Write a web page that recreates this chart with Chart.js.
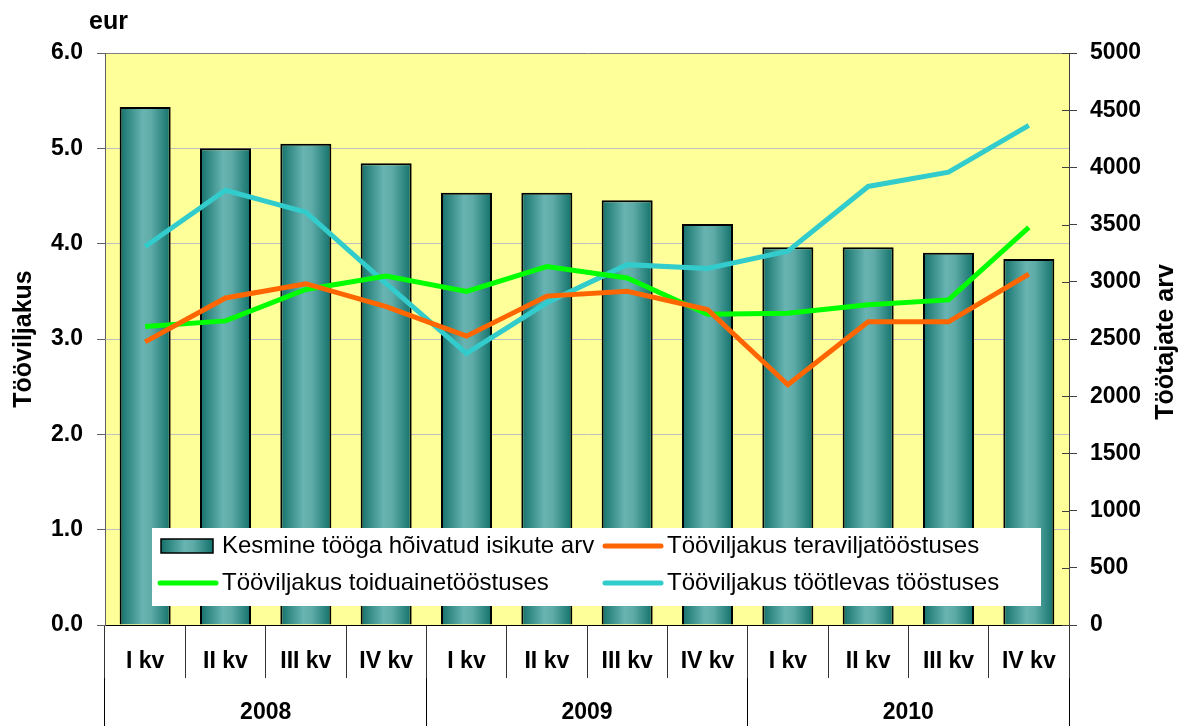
<!DOCTYPE html>
<html lang="et">
<head>
<meta charset="UTF-8">
<title>Tööviljakus</title>
<script src="https://cdn.jsdelivr.net/npm/chart.js@4.4.1/dist/chart.umd.min.js"></script>
<style>
  html, body { margin: 0; padding: 0; background: #fff; }
</style>
</head>
<body>
<canvas id="chart" width="1179" height="726"></canvas>
<script>
// andmed
const kvartalid = ['I kv', 'II kv', 'III kv', 'IV kv', 'I kv', 'II kv', 'III kv', 'IV kv', 'I kv', 'II kv', 'III kv', 'IV kv'];
const aastad = ['2008', '2009', '2010'];
const hoivatud = [4528, 4167, 4207, 4036, 3779, 3779, 3712, 3505, 3302, 3302, 3254, 3199];
const teravili = [2.97, 3.43, 3.58, 3.34, 3.03, 3.45, 3.50, 3.31, 2.52, 3.18, 3.18, 3.68];
const toiduaine = [3.13, 3.19, 3.52, 3.66, 3.50, 3.76, 3.64, 3.26, 3.27, 3.36, 3.41, 4.17];
const tootlev = [3.97, 4.56, 4.33, 3.58, 2.85, 3.38, 3.78, 3.74, 3.92, 4.60, 4.75, 5.24];

const seeriaNimed = ['Kesmine tööga hõivatud isikute arv', 'Tööviljakus teraviljatööstuses',
    'Tööviljakus toiduainetööstuses', 'Tööviljakus töötlevas tööstuses'];
const varvid = { teravili: '#ff6600', toiduaine: '#00ff00', tootlev: '#33cccc' };

const FONT = '"Liberation Sans", Arial, sans-serif';
const TULBA_OSA = 0.635;

function tulbaGradient(g, x0, x1) {
    const gr = g.createLinearGradient(x0, 0, x1, 0);
    gr.addColorStop(0, '#156e69');
    gr.addColorStop(0.15, '#2f8782');
    gr.addColorStop(0.45, '#68b4b2');
    gr.addColorStop(0.62, '#5eaba8');
    gr.addColorStop(1, '#11706a');
    return gr;
}

// tulpade värv arvutatakse skaala järgi
function tulbaVarv(ctx) {
    const x = ctx.chart.scales.x;
    if (!x || ctx.dataIndex === undefined) return '#4fa6a2';
    const w = x.width / kvartalid.length * TULBA_OSA;
    const c = x.getPixelForValue(ctx.dataIndex);
    if (!isFinite(w) || !isFinite(c)) return '#4fa6a2';
    return tulbaGradient(ctx.chart.ctx, c - w / 2, c + w / 2);
}

// kollane taust joonisealale
const taust = {
    id: 'taust',
    beforeDraw(chart) {
        const a = chart.chartArea, g = chart.ctx;
        g.save();
        g.fillStyle = '#ffff99';
        g.fillRect(a.left, a.top, a.right - a.left, a.bottom - a.top);
        g.restore();
    }
};

// legend joonise sees
const legend = {
    id: 'omaLegend',
    afterDatasetsDraw(chart) {
        const a = chart.chartArea, g = chart.ctx;
        const x0 = a.left + 47, y0 = a.bottom - 97, x1 = a.right - 28, y1 = a.bottom - 19;
        g.save();
        g.fillStyle = '#fff';
        g.fillRect(x0, y0, x1 - x0, y1 - y0);
        g.font = '24px ' + FONT;
        g.textBaseline = 'middle';
        const rida1 = y0 + 18, rida2 = y0 + 55;
        const k1 = x0 + 8, k2 = x0 + 451;

        // tulba sümbol
        g.fillStyle = tulbaGradient(g, k1 + 1, k1 + 53);
        g.fillRect(k1 + 1, rida1 - 7, 52, 14);
        g.strokeStyle = '#000';
        g.lineWidth = 1.5;
        g.strokeRect(k1 + 1, rida1 - 7, 52, 14);

        const joon = (x, y, v) => {
            g.strokeStyle = v;
            g.lineWidth = 5;
            g.lineCap = 'round';
            g.beginPath();
            g.moveTo(x + 2, y);
            g.lineTo(x + 58, y);
            g.stroke();
        };
        joon(k1 - 2, rida2, varvid.toiduaine);
        joon(k2, rida1, varvid.teravili);
        joon(k2, rida2, varvid.tootlev);

        g.fillStyle = '#000';
        g.fillText(seeriaNimed[0], x0 + 70, rida1);
        g.fillText(seeriaNimed[2], x0 + 70, rida2);
        g.fillText(seeriaNimed[1], k2 + 64, rida1);
        g.fillText(seeriaNimed[3], k2 + 64, rida2);
        g.restore();
    }
};

// telgede pealkirjad ja parema telje sisemised kriipsud
const pealkirjad = {
    id: 'pealkirjad',
    afterDraw(chart) {
        const a = chart.chartArea, g = chart.ctx;
        g.save();
        g.fillStyle = '#000';
        g.font = 'bold 25px ' + FONT;
        g.textBaseline = 'alphabetic';
        g.textAlign = 'left';
        g.fillText('eur', 89, 29);

        g.textAlign = 'center';
        g.textBaseline = 'middle';
        const kesk = (a.top + a.bottom) / 2;
        g.translate(24, kesk);
        g.rotate(-Math.PI / 2);
        g.fillText('Tööviljakus', 0, 0);
        g.restore();

        g.save();
        g.fillStyle = '#000';
        g.font = 'bold 25px ' + FONT;
        g.textAlign = 'center';
        g.textBaseline = 'middle';
        g.translate(1166, kesk + 3);
        g.rotate(-Math.PI / 2);
        g.fillText('Töötajate arv', 0, 0);
        g.restore();

        const y2 = chart.scales.y2;
        g.save();
        g.strokeStyle = '#404040';
        g.lineWidth = 1;
        y2.ticks.forEach(t => {
            const py = Math.round(y2.getPixelForValue(t.value)) + 0.5;
            g.beginPath();
            g.moveTo(a.right - 7, py);
            g.lineTo(a.right, py);
            g.stroke();
        });
        g.restore();
    }
};

const tickFont = { family: FONT, size: 23, weight: 'bold' };

new Chart(document.getElementById('chart'), {
    type: 'bar',
    data: {
        labels: kvartalid,
        datasets: [
            {
                label: seeriaNimed[1], type: 'line', data: teravili, yAxisID: 'y',
                borderColor: varvid.teravili, borderWidth: 5, pointRadius: 0, tension: 0, order: 0
            },
            {
                label: seeriaNimed[2], type: 'line', data: toiduaine, yAxisID: 'y',
                borderColor: varvid.toiduaine, borderWidth: 5, pointRadius: 0, tension: 0, order: 0
            },
            {
                label: seeriaNimed[3], type: 'line', data: tootlev, yAxisID: 'y',
                borderColor: varvid.tootlev, borderWidth: 5, pointRadius: 0, tension: 0, order: 0
            },
            {
                label: seeriaNimed[0], data: hoivatud, yAxisID: 'y2',
                backgroundColor: tulbaVarv, borderColor: '#000', borderWidth: 2,
                barPercentage: TULBA_OSA, categoryPercentage: 1, order: 1
            }
        ]
    },
    options: {
        responsive: false,
        devicePixelRatio: 1,
        animation: false,
        layout: { padding: { top: 53, left: 0, right: 0, bottom: 0 } },
        plugins: { legend: { display: false }, tooltip: { enabled: false } },
        scales: {
            x: {
                position: 'bottom',
                offset: true,
                grid: { offset: true, drawOnChartArea: false, tickLength: 53, color: '#333' },
                border: { color: '#000', width: 1 },
                ticks: { font: tickFont, color: '#000', padding: -30, maxRotation: 0, autoSkip: false },
                afterFit: s => { s.height = 53; }
            },
            x2: {
                type: 'category',
                labels: aastad,
                position: 'bottom',
                offset: true,
                grid: { offset: true, drawOnChartArea: false, tickLength: 48, color: '#000' },
                border: { display: false },
                ticks: { font: tickFont, color: '#000', padding: -27, maxRotation: 0 },
                afterFit: s => { s.height = 48; }
            },
            y: {
                position: 'left',
                min: 0, max: 6,
                ticks: { stepSize: 1, font: tickFont, color: '#000', padding: 14, callback: v => v.toFixed(1) },
                grid: {
                    color: c => c.tick && c.tick.value === 6 ? '#808080' : '#c0c0c0',
                    tickColor: '#606060', tickLength: 8
                },
                border: { color: '#606060' },
                afterFit: s => { s.width = 105; }
            },
            y2: {
                position: 'right',
                min: 0, max: 5000,
                ticks: { stepSize: 500, font: tickFont, color: '#000', padding: 13, callback: v => String(v) },
                grid: { drawOnChartArea: false, tickColor: '#404040', tickLength: 8 },
                border: { color: '#404040' },
                afterFit: s => { s.width = 110; }
            }
        }
    },
    plugins: [taust, legend, pealkirjad]
});
</script>
</body>
</html>
